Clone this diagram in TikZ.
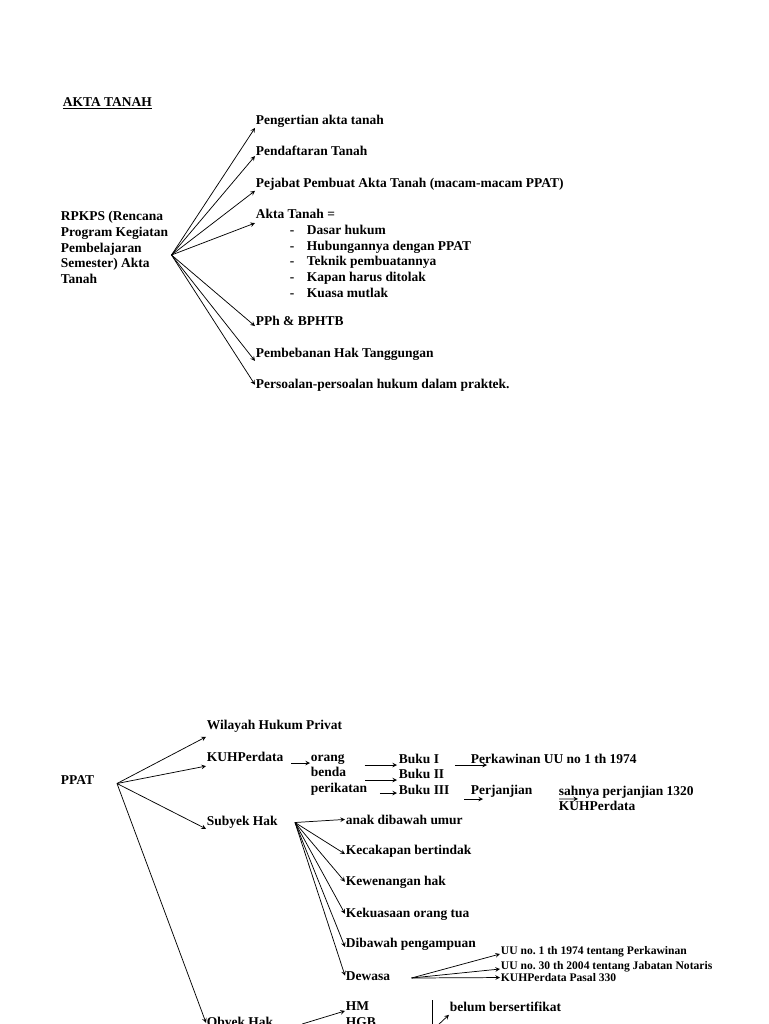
\documentclass[tikz,border=0pt]{standalone}
\usepackage{fontspec}
\setmainfont{Liberation Serif}
\usetikzlibrary{arrows,calc}
\frenchspacing

\newcommand{\dashitem}{\makebox[12.75pt][l]{-}}

\begin{document}
\begin{tikzpicture}[x=0.75pt, y=-0.75pt,
    txt/.style={anchor=base west, inner sep=0.5pt, font=\bfseries\fontsize{10.1}{11.7}\selectfont},
    block/.style={txt, anchor=north west, align=left},
    small/.style={txt, font=\bfseries\fontsize{8.7}{10.5}\selectfont},
    arrow/.style={->, >=stealth, line width=0.55pt}]

    \useasboundingbox (0,0) rectangle (768,1024);
    \clip (0,0) rectangle (768,1024);

    % RPKPS akta tanah
    \node[txt] (title) at (62,106) {\underline{AKTA TANAH}};
    \node[block] (rpkps) at (60,210.7) {RPKPS (Rencana\\Program Kegiatan\\Pembelajaran\\Semester) Akta\\Tanah};
    \coordinate (rpkpsfan) at (171.5,255);

    \node[txt] (pengertian) at (255,124) {Pengertian akta tanah};
    \node[txt] (pendaftaran) at (255,155) {Pendaftaran Tanah};
    \node[txt] (pejabat) at (255,187) {Pejabat Pembuat Akta Tanah (macam-macam PPAT)};
    \node[txt] (akta) at (255,218) {Akta Tanah =};
    \node[block] (aktalist) at (289,224.5) {\dashitem Dasar hukum\\\dashitem Hubungannya dengan PPAT\\\dashitem Teknik pembuatannya\\\dashitem Kapan harus ditolak\\\dashitem Kuasa mutlak};
    \node[txt] (pph) at (255,325) {PPh \& BPHTB};
    \node[txt] (pembebanan) at (255,357) {Pembebanan Hak Tanggungan};
    \node[txt] (persoalan) at (255,388) {Persoalan-persoalan hukum dalam praktek.};

    \draw[arrow] (rpkpsfan) -- (pengertian.south west);
    \draw[arrow] (rpkpsfan) -- (pendaftaran.south west);
    \draw[arrow] (rpkpsfan) -- (pejabat.south west);
    \draw[arrow] (rpkpsfan) -- ([yshift=-3pt]akta.south west);
    \draw[arrow] (rpkpsfan) -- (pph.south west);
    \draw[arrow] (rpkpsfan) -- (pembebanan.south west);
    \draw[arrow] (rpkpsfan) -- (persoalan.west);

    % PPAT
    \node[txt] (ppat) at (60,784) {PPAT};
    \coordinate (ppatfan) at (117,783.5);
    \node[txt] (wilayah) at (206,729) {Wilayah Hukum Privat};
    \node[txt] (kuh) at (206,761) {KUHPerdata};
    \node[txt] (subyek) at (206,825) {Subyek Hak};
    \node[txt] (obyek) at (206,1026) {Obyek Hak};

    \draw[arrow] (ppatfan) -- ([yshift=-3pt]wilayah.south west);
    \draw[arrow] (ppatfan) -- ([yshift=-3pt]kuh.south west);
    \draw[arrow] (ppatfan) -- (subyek.south west);
    \draw[arrow] (ppatfan) -- (obyek.west);

    % KUHPerdata
    \node[txt] (orang) at (310,761) {orang};
    \node[txt] (benda) at (310,776.5) {benda};
    \node[txt] (perikatan) at (310,792) {perikatan};
    \node[txt] (buku1) at (398,763) {Buku I};
    \node[txt] (buku2) at (398,778) {Buku II};
    \node[txt] (buku3) at (398,794) {Buku III};
    \node[txt] (perkawinan) at (470,763) {Perkawinan UU no 1 th 1974};
    \node[txt] (perjanjian) at (470,794) {Perjanjian};
    \node[block] (sahnya) at (558,784.9) {sahnya perjanjian 1320\\KUHPerdata};

    \draw[arrow] ($(kuh.base east)+(7,2)$) -- ($(orang.base west)+(0,2)$);
    \draw[arrow] ($(orang.base east)+(19,4)$) -- ($(buku1.base west)+(-1,2)$);
    \draw[arrow] ($(benda.base east)+(18,3.5)$) -- ($(buku2.base west)+(-1,2)$);
    \draw[arrow] ($(perikatan.base east)+(12,1)$) -- ($(buku3.base west)+(-1,-1)$);
    \draw[arrow] ($(buku1.base east)+(15,2)$) -- ($(perkawinan.base west)+(17,2)$);
    \draw[arrow] ($(buku3.base east)+(14,5)$) -- ($(perjanjian.base west)+(13,5)$);
    \draw[arrow] ($(perjanjian.base east)+(26,5)$) -- ($(sahnya.north west)+(20,14)$);

    % Subyek hak
    \coordinate (subyekfan) at (295,822.5);
    \node[txt] (anak) at (345,824) {anak dibawah umur};
    \node[txt] (kecakapan) at (345,854) {Kecakapan bertindak};
    \node[txt] (kewenangan) at (345,885) {Kewenangan hak};
    \node[txt] (kekuasaan) at (345,917) {Kekuasaan orang tua};
    \node[txt] (pengampuan) at (345,947) {Dibawah pengampuan};
    \node[txt] (dewasa) at (345,980) {Dewasa};

    \draw[arrow] (subyekfan) -- (anak.west);
    \draw[arrow] (subyekfan) -- (kecakapan.base west);
    \draw[arrow] (subyekfan) -- (kewenangan.west);
    \draw[arrow] (subyekfan) -- (kekuasaan.west);
    \draw[arrow] (subyekfan) -- (pengampuan.base west);
    \draw[arrow] (subyekfan) -- (dewasa.west);

    % Dewasa
    \coordinate (dewasafan) at (411.5,978);
    \node[small] (uu1) at (500,954) {UU no. 1 th 1974 tentang Perkawinan};
    \node[small] (uu30) at (500,969) {UU no. 30 th 2004 tentang Jabatan Notaris};
    \node[small] (pasal) at (500,981.5) {KUHPerdata Pasal 330};

    \draw[arrow] (dewasafan) -- (uu1.base west);
    \draw[arrow] (dewasafan) -- (uu30.base west);
    \draw[arrow] (dewasafan) -- (pasal.west);

    % Obyek hak
    \node[txt] (hm) at (345,1010) {HM};
    \node[txt] (hgb) at (345,1026) {HGB};
    \node[txt] (belum) at (449,1011) {belum bersertifikat};
    \coordinate (obyekbranch) at (437,1026);

    \draw[arrow] ($(obyek.base east)+(28,-2)$) -- (hm.south west);
    \draw (432,1000) -- (432,1030);
    \draw[arrow] (obyekbranch) -- ([yshift=-2pt]belum.south west);
\end{tikzpicture}
\end{document}
